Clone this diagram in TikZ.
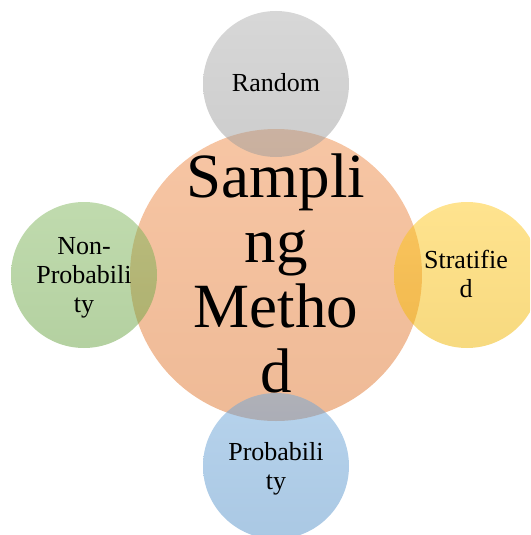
\documentclass[tikz,border=0pt]{standalone}
\usepackage{fontspec}
\setmainfont{Liberation Serif}
\definecolor{hubOrange}{HTML}{ED7D31}
\definecolor{leafGray}{HTML}{A5A5A5}
\definecolor{leafGreen}{HTML}{70AD47}
\definecolor{leafGold}{HTML}{FFC000}
\definecolor{leafBlue}{HTML}{5B9BD5}
\tikzset{
  bubble/.style={circle, draw=none, inner sep=0pt, fill opacity=0.5,
    top color=#1!88!white, bottom color=#1!94!black},
  hubtext/.style={align=center, inner sep=0pt, font=\fontsize{63}{65}\selectfont},
  leaftext/.style={align=center, inner sep=0pt, font=\fontsize{26}{29}\selectfont},
}
\begin{document}
\begin{tikzpicture}[x=1pt,y=-1pt]
  \useasboundingbox (0,0) rectangle (530,535);
  \clip (0,0) rectangle (530,535);
  % hub circle first, satellites overlap it
  \node[bubble=hubOrange, minimum size=292pt] (hub) at (276,275) {};
  \node[bubble=leafGray,  minimum size=146pt] (random) at (276,84) {};
  \node[bubble=leafGreen, minimum size=146pt] (nonprob) at (84,275) {};
  \node[bubble=leafGold,  minimum size=146pt] (strat) at (467,275) {};
  \node[bubble=leafBlue,  minimum size=146pt] (prob) at (276,466) {};
  % labels
  \node[hubtext]  (hublabel)    at (276,273) {Sampli\\ng\\Metho\\d};
  \node[leaftext] (randomlabel) at (276,83)  {Random};
  \node[leaftext] (nonproblabel) at (84,277.7) {Non-\\Probabili\\ty};
  \node[leaftext] (stratlabel)  at (466,274) {Stratifie\\d};
  \node[leaftext] (problabel)   at (276,469) {Probabili\\ty};
\end{tikzpicture}
\end{document}
